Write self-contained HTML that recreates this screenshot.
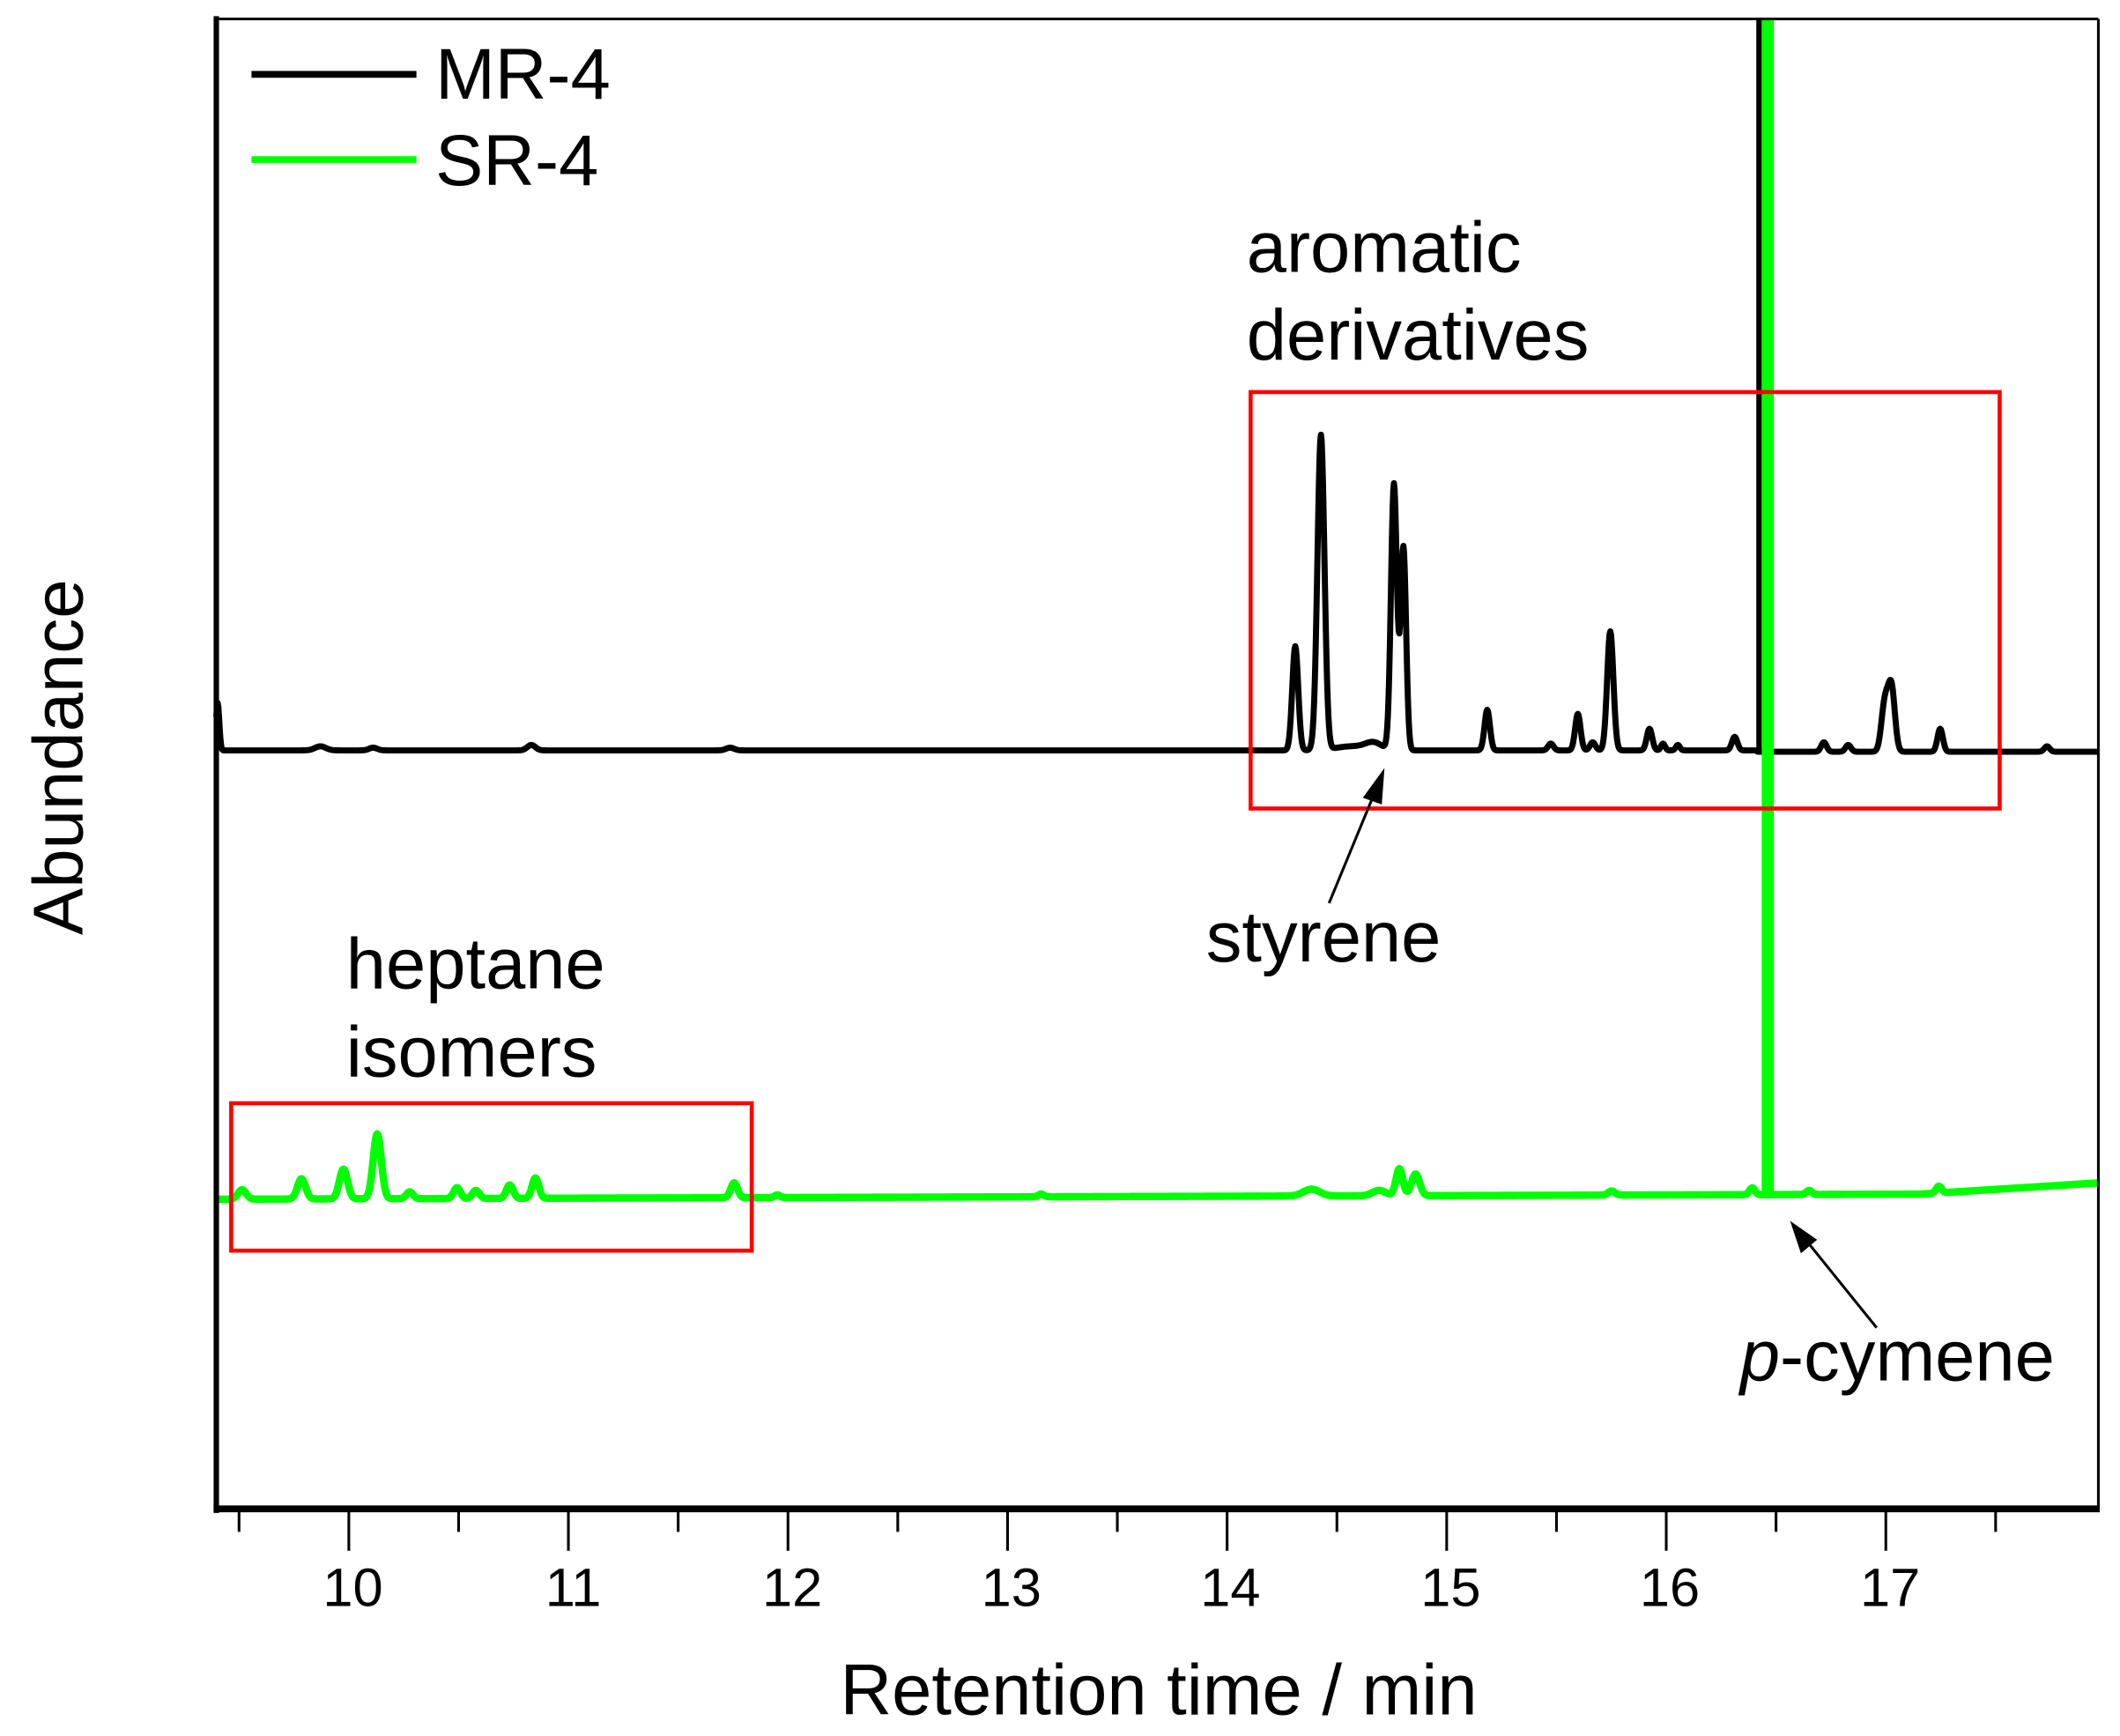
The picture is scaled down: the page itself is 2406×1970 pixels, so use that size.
<!DOCTYPE html>
<html><head><meta charset="utf-8"><style>
html,body{margin:0;padding:0;background:#fff}
svg{display:block}
text{font-family:"Liberation Sans",Arial,sans-serif;fill:#000}
</style></head><body>
<svg id="s" width="2406" height="1970" viewBox="0 0 1568 1284" preserveAspectRatio="none" xmlns="http://www.w3.org/2000/svg">
<rect x="0" y="0" width="1568" height="1284" fill="#fff"/>
<path id="blk" d="" fill="none" stroke="#000" stroke-width="4.5" stroke-linejoin="round"/>
<path id="grn" d="" fill="none" stroke="#00ff00" stroke-width="5.5" stroke-linejoin="round"/>
<line x1="1301" y1="14" x2="1301" y2="555" stroke="#000" stroke-width="4"/>
<rect x="1303" y="14" width="9" height="870" fill="#00ff00"/>
<rect x="925" y="290" width="554" height="308" fill="none" stroke="#ff0000" stroke-width="3"/>
<rect x="171" y="816" width="385" height="109" fill="none" stroke="#ff0000" stroke-width="3"/>
<line x1="160" y1="14" x2="1552" y2="14" stroke="#000" stroke-width="2"/>
<line x1="1552" y1="14" x2="1552" y2="1117" stroke="#000" stroke-width="2"/>
<line x1="160" y1="12" x2="160" y2="1119" stroke="#000" stroke-width="4"/>
<line x1="158" y1="1116" x2="1553" y2="1116" stroke="#000" stroke-width="5"/>
<g id="ticks" stroke="#000" stroke-width="2"></g>
<g font-size="40" text-anchor="middle">
<text x="261" y="1188">10</text><text x="424" y="1188">11</text><text x="586" y="1188">12</text><text x="748" y="1188">13</text><text x="910" y="1188">14</text><text x="1073" y="1188">15</text><text x="1235" y="1188">16</text><text x="1398" y="1188">17</text>
</g>
<text x="857" y="1268" font-size="53" text-anchor="middle">Retention time / min</text>
<text transform="translate(61,560) rotate(-90)" font-size="52" text-anchor="middle">Abundance</text>
<line x1="186" y1="55" x2="308" y2="55" stroke="#000" stroke-width="5"/>
<text x="322" y="73" font-size="53">MR-4</text>
<line x1="186" y1="118" x2="308" y2="118" stroke="#00ff00" stroke-width="5"/>
<text x="322" y="137" font-size="53">SR-4</text>
<text x="922" y="201" font-size="53">aromatic</text>
<text x="922" y="266" font-size="53">derivatives</text>
<text x="892" y="711" font-size="53">styrene</text>
<text x="256" y="731" font-size="53">heptane</text>
<text x="256" y="796" font-size="53">isomers</text>
<text x="1287" y="1021" font-size="53"><tspan font-style="italic">p</tspan>-cymene</text>
<line x1="983" y1="668" x2="1016" y2="588" stroke="#000" stroke-width="2"/>
<polygon points="1024,568 1008,590 1022,595" fill="#000"/>
<line x1="1388" y1="982" x2="1338" y2="920" stroke="#000" stroke-width="2"/>
<polygon points="1324,903 1332,927 1344,917" fill="#000"/>
</svg>
<script>
function gen(base,peaks){var d="";for(var x=160;x<=1552;x+=0.5){var y=base(x);for(var i=0;i<peaks.length;i++){var p=peaks[i];var u=(x-p[0])/p[2];y-=p[1]*Math.exp(-0.5*u*u);}d+=(x==160?"M":"L")+x+","+y.toFixed(2);}return d;}
var bp=[[161,35,1.2],[237,3,4],[276,2,3],[393,4,3],[540,2,3],[1000,3,12],[1016,5,6],[958,77,2.2],[977,233,2.6],[1031,197,2.2],[1038,150,2],[1100,30,2],[1147,5,2],[1167,27,2],[1178,6,2],[1191,88,2.3],[1220,16,2],[1230,5,1.5],[1241,4,1.5],[1283,10,2],[1349,7,2],[1367,5,2],[1394,35,2.5],[1399,47,2.5],[1435,17,2],[1514,4,2]];
document.getElementById('blk').setAttribute('d',gen(function(x){return x<1300?555:556},bp));
var gp=[[179,7,3],[223,15,3],[254,22,3],[279,48,3],[303,5,2.5],[338,8,2.5],[352,6,2.5],[377,10,2.5],[396,15,2.5],[543,11,2.5],[575,2,2],[770,2,2],[970,5,6],[1020,4,5],[1035,20,2.5],[1047,16,3],[1192,3,2.5],[1296,5,2],[1338,3,2],[1434,5,2]];
document.getElementById('grn').setAttribute('d',gen(function(x){var b=887-(x-160)*0.003;if(x>1420)b-=(x-1420)*0.06;return b;},gp));
var t=document.getElementById('ticks'),h="";
for(var v=9.5;v<=18;v+=0.5){var x=258+(v-10)*162.4;if(x<162||x>1550)continue;var maj=Math.abs(v-Math.round(v))<0.01;h+='<line x1="'+x+'" y1="1118" x2="'+x+'" y2="'+(maj?1147:1133)+'"/>';}
t.innerHTML=h;
</script>
</body></html>
